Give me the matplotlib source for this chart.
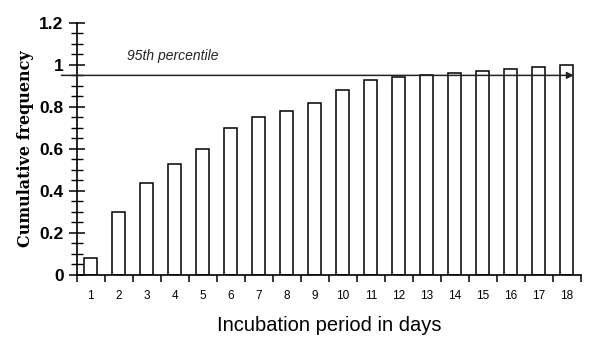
import matplotlib
matplotlib.use("Agg")
import matplotlib.pyplot as plt
import numpy as np
from matplotlib.ticker import MultipleLocator, FixedLocator, NullFormatter

days = list(range(1, 19))
cum_freq = [0.08, 0.30, 0.44, 0.53, 0.60, 0.70, 0.75, 0.78, 0.82,
            0.88, 0.93, 0.94, 0.95, 0.96, 0.97, 0.98, 0.99, 1.00]
percentile_95 = 0.95
y_ticks = [0, 0.2, 0.4, 0.6, 0.8, 1, 1.2]
y_tick_labels = ["0", "0.2", "0.4", "0.6", "0.8", "1", "1.2"]

fig = plt.figure(figsize=(6.0, 3.52), dpi=100)
ax = fig.add_axes([0.128, 0.219, 0.840, 0.716])

ax.bar(days, cum_freq, width=0.46, color="white", edgecolor="black", linewidth=1.1, zorder=2)

ax.set_xlim(0.5, 18.5)
ax.set_ylim(0, 1.2)

for s in ["top", "right"]:
    ax.spines[s].set_visible(False)
ax.spines["left"].set_linewidth(1.2)
ax.spines["bottom"].set_linewidth(1.2)

# y ticks
ax.set_yticks(y_ticks)
ax.set_yticklabels(y_tick_labels, fontfamily="Liberation Sans", fontweight="bold", fontsize=12.5)
ax.yaxis.set_minor_locator(MultipleLocator(0.05))
ax.tick_params(axis="y", which="major", direction="inout", length=11, width=1.1, pad=4)
ax.tick_params(axis="y", which="minor", direction="inout", length=9, width=1.0)

# x ticks: labels at centres, tick marks at boundaries
ax.set_xticks(days)
ax.set_xticklabels([str(d) for d in days], fontfamily="Liberation Sans", fontsize=8.5)
ax.xaxis.set_minor_locator(FixedLocator(np.arange(0.5, 19.0, 1.0)))
ax.xaxis.set_minor_formatter(NullFormatter())
ax.tick_params(axis="x", which="major", length=0, pad=11)
ax.tick_params(axis="x", which="minor", direction="out", length=5, width=1.1)

# 95th percentile arrow line
ax.annotate("", xy=(18.25, percentile_95), xytext=(-0.05, percentile_95),
            xycoords="data", textcoords="data", annotation_clip=False,
            arrowprops=dict(arrowstyle="-|>", color="#222222", lw=1.1,
                            mutation_scale=10, shrinkA=0, shrinkB=0), zorder=3)
ax.text(2.28, 1.04, "95th percentile", fontfamily="Liberation Sans", style="italic",
        fontsize=10, ha="left", va="center", color="#222222")

ax.set_xlabel("Incubation period in days", fontfamily="Liberation Sans", fontsize=14.5, labelpad=10)
ax.set_ylabel("Cumulative frequency", fontfamily="DejaVu Serif", fontweight="bold", fontsize=11.5, labelpad=4)

fig.savefig("out.png", dpi=100)
